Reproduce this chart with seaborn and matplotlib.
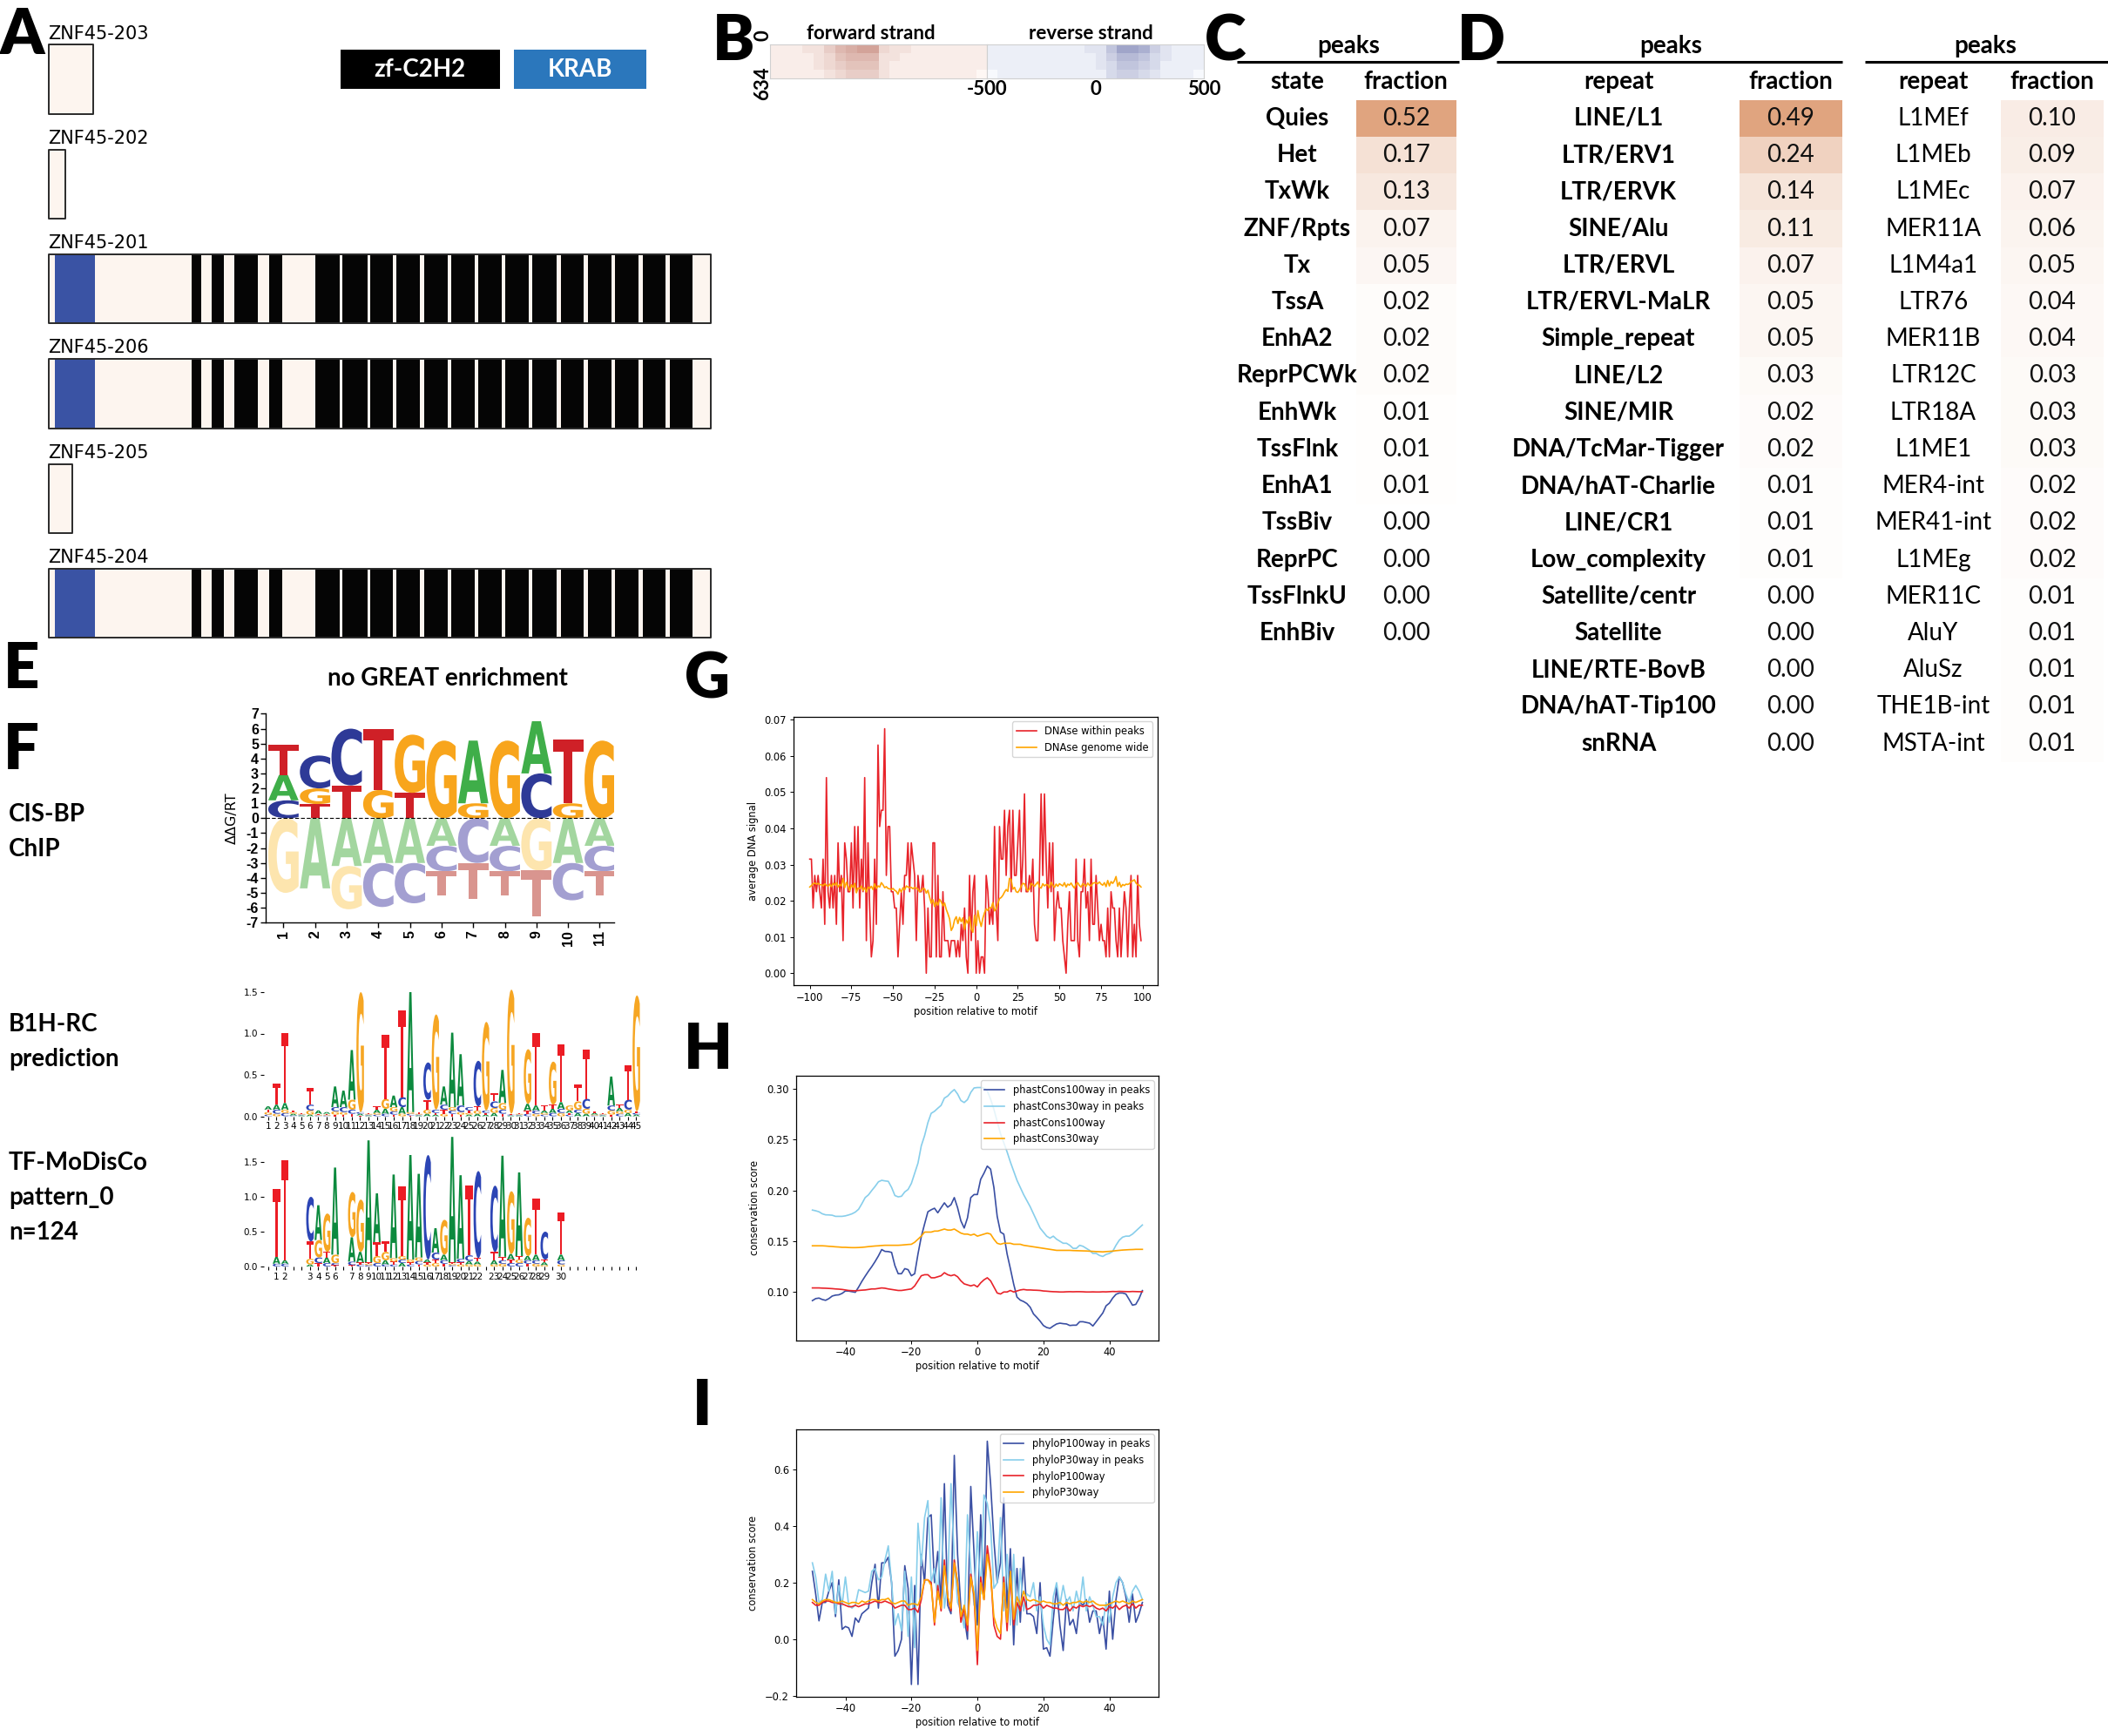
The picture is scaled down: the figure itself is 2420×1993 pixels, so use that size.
import numpy as np
import pandas as pd
import matplotlib
matplotlib.use("Agg")
import matplotlib.pyplot as plt
import seaborn as sns
from matplotlib.patches import Rectangle, PathPatch
from matplotlib.textpath import TextPath
from matplotlib.font_manager import FontProperties
from matplotlib.transforms import Affine2D, blended_transform_factory
from matplotlib.colors import LinearSegmentedColormap

W, H, DPI = 2420, 1993, 100

# ------------------------------------------------------------------ data
isoforms = ["ZNF45-203", "ZNF45-202", "ZNF45-201", "ZNF45-206", "ZNF45-205", "ZNF45-204"]
iso_length = [46, 17, 682, 682, 25, 682]
iso_domains = [False, False, True, True, False, True]
krab_domain = (7, 48)
zf_domains = [(147.6, 157), (168, 180.5), (191.8, 215.7), (227, 241), (275.4, 299.9),
              (303, 328.5), (331.8, 354.9), (358.6, 383), (386.8, 411.3), (415, 439),
              (443, 467), (471, 495), (498.7, 523.6), (527.8, 551.8), (556, 580),
              (584, 608), (612.4, 636), (640, 663.6)]

fwd_density = [[1, 1, 1, 2, 2, 4, 6, 7, 8, 8, 3, 2, 2, 1, 1, 1, 1, 1, 1, 1],
               [1, 1, 1, 1, 2, 3, 5, 6, 6, 6, 2, 2, 1, 1, 1, 1, 1, 1, 1, 1],
               [1, 1, 1, 1, 2, 3, 4, 5, 5, 5, 2, 1, 1, 1, 1, 1, 1, 1, 1, 1],
               [1, 1, 1, 1, 1, 2, 3, 4, 4, 4, 2, 1, 1, 1, 1, 1, 1, 1, 1, 0]]
rev_density = [[1, 1, 1, 1, 1, 1, 1, 1, 1, 2, 2, 5, 8, 8, 7, 4, 2, 1, 1, 1],
               [1, 1, 1, 1, 1, 1, 1, 1, 1, 1, 2, 4, 6, 6, 5, 3, 2, 1, 1, 1],
               [1, 1, 1, 1, 1, 1, 1, 1, 1, 1, 2, 3, 5, 5, 4, 3, 1, 1, 1, 1],
               [0, 1, 1, 1, 1, 1, 1, 1, 1, 1, 1, 3, 4, 4, 3, 2, 1, 1, 1, 0]]
strand_ticks = ["-500", "0", "500"]
heat_rows = ["0", "634"]

states = ["Quies", "Het", "TxWk", "ZNF/Rpts", "Tx", "TssA", "EnhA2", "ReprPCWk", "EnhWk",
          "TssFlnk", "EnhA1", "TssBiv", "ReprPC", "TssFlnkU", "EnhBiv"]
state_frac = [0.52, 0.17, 0.13, 0.07, 0.05, 0.02, 0.02, 0.02, 0.01, 0.01, 0.01, 0.00, 0.00, 0.00, 0.00]

repeat_class = ["LINE/L1", "LTR/ERV1", "LTR/ERVK", "SINE/Alu", "LTR/ERVL", "LTR/ERVL-MaLR",
                "Simple_repeat", "LINE/L2", "SINE/MIR", "DNA/TcMar-Tigger", "DNA/hAT-Charlie",
                "LINE/CR1", "Low_complexity", "Satellite/centr", "Satellite", "LINE/RTE-BovB",
                "DNA/hAT-Tip100", "snRNA"]
repeat_class_frac = [0.49, 0.24, 0.14, 0.11, 0.07, 0.05, 0.05, 0.03, 0.02, 0.02, 0.01, 0.01,
                     0.01, 0.00, 0.00, 0.00, 0.00, 0.00]

repeat_family = ["L1MEf", "L1MEb", "L1MEc", "MER11A", "L1M4a1", "LTR76", "MER11B", "LTR12C",
                 "LTR18A", "L1ME1", "MER4-int", "MER41-int", "L1MEg", "MER11C", "AluY", "AluSz",
                 "THE1B-int", "MSTA-int"]
repeat_family_frac = [0.10, 0.09, 0.07, 0.06, 0.05, 0.04, 0.04, 0.03, 0.03, 0.03, 0.02, 0.02,
                      0.02, 0.01, 0.01, 0.01, 0.01, 0.01]

# CIS-BP energy logo (ddG/RT), positions 1..11
cisbp_A = [1.7, -4.7, -3.2, -3.0, -3.0, -1.85, 4.2, -1.85, 3.5, -3.0, -1.85]
cisbp_C = [1.2, 2.2, 3.8, -2.95, -2.7, -1.7, -3.0, -1.7, 3.0, -2.5, -1.7]
cisbp_G = [-5.0, 1.05, -2.9, 1.9, 3.9, 5.2, 1.0, 5.2, -3.5, 1.0, 5.2]
cisbp_T = [2.0, 0.95, 2.2, 4.1, 1.7, -1.65, -2.4, -1.65, -3.1, 4.3, -1.65]

# B1H-RC prediction logo (bits), positions 1..45
b1h_A = [.04, .06, .08, .02, .01, .02, .04, .02, .25, .2, .6, .02, .01, .04, .06, .14, .08, 1.45, .01, .03,
         .02, .22, .9, .62, .02, .03, .02, .04, .4, .01, .01, .08, .06, .03, .05, .08, .03, .04, .03, .02,
         .01, .35, .04, .04, .02]
b1h_C = [.02, .05, .04, .01, .01, .07, .01, .01, .05, .06, .05, .02, .01, .02, .03, .04, .12, .02, .01, .45,
         .04, .06, .04, .08, .04, .55, .03, .08, .05, .01, .01, .03, .04, .02, .04, .05, .02, .04, .12, .01,
         .01, .06, .03, .12, .02]
b1h_G = [.03, .03, .04, .02, .01, .05, .01, .01, .04, .03, .12, 1.45, .01, .02, .12, .05, .03, .02, .01, .05,
         1.15, .03, .04, .03, .02, .04, 1.07, .06, .08, 1.5, .01, .66, .03, .02, .52, .04, .06, .1, .06, .01,
         .01, .05, .03, .04, 1.4]
b1h_T = [.03, .25, .85, .02, .01, .2, .01, .01, .02, .02, .03, .01, .01, .04, .77, .02, 1.05, .01, .02, .12,
         .02, .05, .03, .02, .03, .05, .02, .1, .03, .01, .01, .04, .88, .06, .05, .7, .02, .2, .6, .02,
         .01, .02, .04, .42, .02]

# TF-MoDisCo pattern_0 logo (bits), 45 slots, 30 labelled positions
md_A = [0, .1, .05, 0, 0, .03, .5, .08, 1.25, 0, .35, .15, 1.75, .7, .06, 1.2, .05, 1.5, 1.2, .04,
        .35, .08, 1.8, 1.2, .05, .04, 0, .06, 1.45, .08, 1.2, .06, .08, .04, 0, .08, 0, 0, 0, 0, 0, 0, 0, 0, 0]
md_C = [0, .04, .04, 0, 0, .64, .08, .05, .03, 0, .05, .03, .02, .05, .03, .03, .05, .03, .05, 1.5,
        .1, .05, .02, .05, .08, 1.25, 0, .95, .05, .05, .05, .05, .05, .4, 0, .06, 0, 0, 0, 0, 0, 0, 0, 0, 0]
md_G = [0, 0, 0, 0, 0, .08, .25, .55, .12, 0, .65, .75, .02, .1, .12, .05, .05, .04, .05, .03,
        .05, .5, .02, .03, .03, .03, 0, .03, .04, .9, .05, .55, .04, .02, 0, .03, 0, 0, 0, 0, 0, 0, 0, 0, 0]
md_T = [0, .97, 1.43, 0, 0, .25, .05, .08, .02, 0, .02, .03, .02, .2, .15, .04, 1.0, .03, .03, .03,
        .05, .04, .02, .03, 1.0, .05, 0, .12, .05, .05, .05, .04, .8, .04, 0, .6, 0, 0, 0, 0, 0, 0, 0, 0, 0]
md_label_slots = [2, 3, 6, 7, 8, 9, 11, 12, 13, 14, 15, 16, 17, 18, 19, 20, 21, 22, 23, 24, 25, 26,
                  28, 29, 30, 31, 32, 33, 34, 36]

# G: DNase signal around motif
dnase_pos = list(range(-100, 100))
dnase_peaks = [.0315, .0315, .018, .027, .0225, .027, .0225, .018, .0315, .0135,
               .054, .0225, .018, .027, .018, .027, .0135, .036, .0225, .027,
               .009, .036, .0315, .0225, .0225, .036, .018, .0405, .0225, .0405,
               .018, .0315, .0225, .054, .009, .036, .018, .0045, .009, .0315,
               .0135, .063, .0405, .045, .045, .0675, .027, .0405, .0405, .0225,
               .0225, .018, .018, .0045, .0135, .0225, .0135, .027, .027, .036,
               .0225, .036, .0315, .027, .009, .027, .0225, .0225, .027, .018,
               .0, .018, .0045, .0045, .036, .036, .0045, .027, .0045, .0045,
               .0225, .009, .009, .009, .0045, .009, .009, .009, .0045, .009,
               .0045, .0135, .009, .018, .0045, .0, .027, .009, .0225, .027,
               .0, .009, .0, .0045, .0045, .0, .027, .0225, .0135, .018,
               .0135, .0405, .018, .009, .0405, .0315, .0315, .045, .027, .0405,
               .045, .0225, .045, .027, .027, .036, .045, .0225, .0315, .0495,
               .0225, .0225, .027, .0225, .0315, .0135, .009, .009, .027, .0495,
               .027, .0495, .0315, .018, .036, .0225, .036, .009, .018, .0225,
               .018, .018, .009, .0045, .0, .0135, .0225, .009, .009, .009,
               .0315, .009, .0045, .0225, .0225, .0315, .018, .0225, .009, .0315,
               .0135, .0135, .027, .018, .009, .0135, .009, .009, .0045, .018,
               .0045, .0225, .018, .018, .009, .0045, .018, .0045, .0135, .0225,
               .018, .0045, .018, .027, .0045, .0135, .0045, .027, .0135, .009]
dnase_genome = [.0238, .0242, .0247, .0249, .0246, .0248, .0245, .0244, .0241, .0247,
                .0243, .0240, .0246, .0239, .0248, .0243, .0250, .0238, .0245, .0241,
                .0262, .0236, .0251, .0240, .0228, .0244, .0237, .0248, .0222, .0235,
                .0233, .0241, .0229, .0236, .0224, .0238, .0234, .0240, .0231, .0247,
                .0234, .0241, .0238, .0250, .0244, .0236, .0239, .0234, .0233, .0231,
                .0234, .0229, .0226, .0218, .0233, .0224, .0236, .0230, .0241, .0238,
                .0236, .0237, .0233, .0237, .0235, .0232, .0225, .0229, .0234, .0233,
                .0221, .0229, .0210, .0193, .0203, .0184, .0197, .0188, .0204, .0197,
                .0186, .0194, .0176, .0164, .0150, .0118, .0127, .0147, .0156, .0137,
                .0154, .0142, .0153, .0121, .0147, .0138, .0156, .0122, .0113, .0160,
                .0131, .0173, .0146, .0129, .0152, .0167, .0178, .0173, .0181, .0180,
                .0195, .0172, .0178, .0193, .0206, .0209, .0215, .0224, .0231, .0226,
                .0262, .0258, .0232, .0237, .0225, .0223, .0230, .0240, .0248, .0247,
                .0235, .0227, .0233, .0248, .0244, .0240, .0246, .0252, .0238, .0235,
                .0247, .0241, .0245, .0244, .0236, .0251, .0243, .0237, .0246, .0240,
                .0247, .0244, .0241, .0250, .0238, .0246, .0243, .0249, .0241, .0235,
                .0246, .0250, .0242, .0238, .0247, .0244, .0240, .0249, .0243, .0241,
                .0248, .0250, .0249, .0247, .0252, .0246, .0243, .0250, .0239, .0256,
                .0241, .0253, .0248, .0255, .0267, .0240, .0251, .0238, .0245, .0242,
                .0246, .0245, .0247, .0253, .0255, .0258, .0249, .0244, .0243, .0238]

# H: phastCons around motif
cons_pos = list(range(-50, 51))
phast100_peaks = [.0915, .0935, .094, .0926, .0918, .0935, .096, .0969, .0972, .0986,
                  .101, .1009, .1003, .0997, .1048, .1105, .1156, .1205, .125, .130,
                  .1355, .1418, .140, .1398, .139, .126, .118, .118, .123, .122,
                  .116, .118, .1375, .1545, .167, .179, .181, .1825, .178, .183,
                  .1878, .1835, .186, .193, .183, .170, .163, .173, .193, .196,
                  .196, .211, .217, .224, .221, .203, .1745, .159, .157, .1375,
                  .123, .1077, .095, .092, .0906, .0886, .085, .0784, .075, .0713,
                  .067, .065, .0642, .0665, .0685, .0693, .0688, .0685, .067, .0673,
                  .0673, .0707, .0707, .070, .0693, .0665, .0707, .075, .0793, .0864,
                  .089, .094, .0977, .099, .099, .098, .0926, .087, .0878, .0935,
                  .1014]
phast30_peaks = [.1807, .180, .179, .177, .176, .1759, .1756, .1745, .1745, .1745,
                 .175, .1759, .177, .1787, .1815, .187, .193, .1957, .200, .204,
                 .2085, .21, .2094, .209, .203, .195, .1937, .1943, .1986, .201,
                 .207, .217, .227, .244, .254, .2668, .276, .278, .281, .2838,
                 .291, .293, .2966, .2994, .295, .2886, .2866, .2895, .2966, .301,
                 .3014, .3014, .301, .298, .29, .28, .268, .256, .247, .238,
                 .228, .219, .21, .203, .196, .19, .184, .177, .17, .163,
                 .159, .155, .153, .155, .152, .15, .148, .148, .146, .143,
                 .143, .146, .145, .143, .141, .138, .138, .136, .135, .137,
                 .138, .14, .146, .151, .154, .155, .155, .157, .16, .163,
                 .166]
phast100_all = [.104, .104, .104, .1038, .1037, .1035, .1033, .103, .1028, .1025,
                .102, .1015, .1013, .1012, .1015, .1018, .102, .1025, .103, .103,
                .1035, .104, .1037, .103, .1025, .102, .1015, .1015, .102, .1025,
                .103, .106, .111, .116, .117, .117, .114, .114, .115, .116,
                .119, .117, .116, .117, .115, .111, .108, .107, .106, .107,
                .105, .109, .112, .114, .111, .105, .099, .098, .1, .1,
                .1015, .1, .101, .102, .1025, .102, .102, .1018, .1017, .1015,
                .101, .1008, .1005, .1003, .1002, .1, .1, .1002, .1003, .1002,
                .1003, .1003, .1002, .1, .1, .1001, .1, .1, .1002, .1001,
                .1003, .1005, .1004, .1006, .1005, .1004, .1003, .1005, .1004, .1003,
                .1003]
phast30_all = [.1455, .1455, .1455, .1455, .1453, .145, .1448, .1445, .1443, .144,
               .144, .1438, .1437, .1437, .1438, .144, .1443, .1447, .145, .1453,
               .1455, .1458, .146, .146, .146, .146, .146, .1462, .1465, .1468,
               .147, .149, .152, .155, .159, .159, .159, .16, .16, .161,
               .162, .161, .161, .162, .16, .158, .157, .157, .156, .157,
               .155, .156, .157, .158, .157, .152, .148, .147, .148, .148,
               .148, .147, .147, .147, .146, .1455, .145, .1445, .144, .1435,
               .143, .1425, .142, .1415, .141, .141, .141, .141, .141, .1408,
               .1407, .1406, .1405, .1404, .1402, .14, .1398, .1397, .1395, .1398,
               .14, .1403, .1407, .141, .1413, .1415, .1417, .1418, .142, .142,
               .142]

# I: phyloP around motif
phylo100_peaks = [.24, .16, .065, .13, .13, .17, .2, .08, .21, .035,
                  .045, .04, .01, .075, .06, .09, .1, .11, .2, .265,
                  .11, .27, .27, .29, .2, -.06, -.04, 0.0, .26, .18,
                  -.16, .19, -.16, .3, .2, .43, .44, .2, .31, .13,
                  .55, .12, .09, .65, .3, .11, .08, 0.0, .54, .3,
                  .05, .44, .15, .7, .55, .35, .2, .27, .5, .11,
                  .32, -.02, .25, .06, .29, .09, .09, .08, .02, .2,
                  -.035, -.03, -.06, .07, .185, .05, -.04, .14, .05, .07,
                  .02, .13, .12, .14, .06, .1, .1, .02, .08, -.035,
                  .17, 0.0, .14, .22, .2, .15, .06, .16, .06, .09,
                  .13]
phylo30_peaks = [.27, .22, .13, .14, .23, .17, .24, .09, .19, .12,
                 .22, .12, .11, .12, .175, .17, .165, .17, .24, .25,
                 .21, .22, .28, .33, .2, .05, .09, .03, .24, .01,
                 .22, -.03, .41, .26, .43, .49, .2, .25, .14, .5,
                 .11, .2, .55, .28, .13, .1, .04, .44, .25, .12,
                 .38, .16, .51, .48, .4, .18, .2, .43, .1, .3,
                 .05, .3, .05, .25, .1, .16, .15, .2, .1, .15,
                 .05, 0.0, -.02, .15, .2, .12, .19, .13, .15, .1,
                 .17, .12, .22, .1, .15, .12, .08, .08, .05, .13,
                 .06, .15, .2, .22, .2, .16, .13, .17, .19, .17,
                 .14]
phylo100_all = [.13, .12, .12, .13, .135, .135, .13, .13, .125, .125,
                .12, .115, .115, .12, .115, .12, .125, .125, .13, .135,
                .13, .13, .135, .13, .125, .11, .115, .12, .12, .105,
                .105, .11, .095, .14, .21, .21, .2, .05, .19, .1,
                .28, .15, .1, .28, .2, .06, .11, .03, .23, .15,
                -.09, .22, .14, .33, .24, .05, .01, 0.0, .22, .03,
                .23, .05, .13, .1, .15, .105, .11, .12, .12, .125,
                .11, .12, .115, .11, .11, .105, .105, .115, .1, .115,
                .11, .12, .115, .12, .115, .12, .11, .105, .11, .1,
                .115, .11, .12, .105, .115, .12, .11, .125, .11, .12,
                .12]
phylo30_all = [.14, .13, .125, .135, .14, .14, .135, .13, .13, .135,
               .13, .125, .13, .13, .125, .135, .13, .135, .14, .14,
               .135, .14, .14, .145, .13, .125, .13, .135, .135, .12,
               .125, .125, .12, .15, .21, .21, .19, .06, .17, .11,
               .26, .15, .11, .27, .2, .08, .12, .05, .22, .16,
               -.04, .2, .14, .3, .23, .08, .04, .02, .2, .06,
               .24, .07, .15, .12, .17, .14, .135, .14, .135, .13,
               .135, .13, .13, .125, .125, .13, .12, .13, .125, .13,
               .13, .135, .13, .135, .13, .135, .125, .12, .12, .12,
               .125, .13, .135, .13, .135, .13, .125, .135, .13, .135,
               .14]

# ------------------------------------------------------------------ style
plt.rcParams["font.family"] = ["Lato", "DejaVu Sans"]
FONT = ["Lato", "DejaVu Sans"]
SMALL = 8.3

fig = plt.figure(figsize=(W / DPI, H / DPI), dpi=DPI)
fig.patch.set_facecolor("white")


def rect(x0, y0, x1, y1):
    return [x0 / W, 1 - y1 / H, (x1 - x0) / W, (y1 - y0) / H]


bg = fig.add_axes([0, 0, 1, 1], zorder=-5)
bg.set_xlim(0, W)
bg.set_ylim(H, 0)
bg.axis("off")


def txt(x, y, s, size=20, weight="normal", ha="center", va="center", **kw):
    kw.setdefault("family", FONT)
    bg.text(x, y, s, fontsize=size, fontweight=weight, ha=ha, va=va, **kw)


# panel letters
for lab, x, y in [("A", 0, 62), ("B", 818, 69), ("C", 1383, 69), ("D", 1673, 69),
                  ("E", 4, 790), ("F", 4, 883), ("G", 786, 802), ("H", 785, 1227), ("I", 795, 1636)]:
    txt(x, y, lab, size=52, weight="heavy", ha="left", va="baseline")

# ------------------------------------------------------------------ A: isoforms
axA = fig.add_axes(rect(55.6, 0, 815.5, 760))
axA.set_xlim(0, 682)
axA.set_ylim(5.561, -0.7565)
axA.axis("off")
axA.patch.set_alpha(0)
BOX_H = 0.66
for k, (name, L, dom) in enumerate(zip(isoforms, iso_length, iso_domains)):
    yb = (k - BOX_H / 2, BOX_H)
    axA.broken_barh([(0, L)], yb, facecolors="#fdf5ef", edgecolors="none")
    if dom:
        axA.broken_barh([(krab_domain[0], krab_domain[1] - krab_domain[0])], yb,
                        facecolors="#3a53a4", edgecolors="none")
        axA.broken_barh([(s, e - s) for s, e in zf_domains], yb,
                        facecolors="#050505", edgecolors="none")
    c = axA.broken_barh([(0, L)], yb, facecolors="none", edgecolors="#2a2a2a", linewidth=1.4)
    c.set_clip_on(False)
    axA.text(0, k - 0.436, name, fontsize=15, family="DejaVu Sans", ha="left", va="center")

bg.add_patch(Rectangle((390.5, 57), 183.5, 45, facecolor="black", edgecolor="none"))
bg.add_patch(Rectangle((589.6, 57), 152.8, 45, facecolor="#2b77bc", edgecolor="none"))
txt(482, 80, "zf-C2H2", size=20, weight="bold", color="white")
txt(666, 80, "KRAB", size=20, weight="bold", color="white")

# ------------------------------------------------------------------ B: strand heatmaps
cm_f = LinearSegmentedColormap.from_list("fwd", ["#fef7f4", "#a8503f"])
cm_r = LinearSegmentedColormap.from_list("rev", ["#f7f9fd", "#4a5296"])
axBf = fig.add_axes(rect(884, 51, 1133, 89.5))
axBr = fig.add_axes(rect(1133, 51, 1382, 89.5))
sns.heatmap(np.array(fwd_density), ax=axBf, cmap=cm_f, vmin=0, vmax=16, cbar=False,
            xticklabels=False, yticklabels=False)
sns.heatmap(np.array(rev_density), ax=axBr, cmap=cm_r, vmin=0, vmax=16, cbar=False,
            xticklabels=False, yticklabels=False)
for a in (axBf, axBr):
    for s in a.spines.values():
        s.set_visible(True)
        s.set_color("#d0d0d0")
        s.set_linewidth(0.8)
ncol = len(rev_density[0])
axBr.set_xticks([0, ncol / 2, ncol])
axBr.set_xticklabels(strand_ticks, fontsize=16, fontweight="bold", family=FONT)
axBr.tick_params(axis="x", length=0, pad=1.5)
txt(876, 41, heat_rows[0], size=16, weight="bold", rotation=90)
txt(876, 96, heat_rows[1], size=16, weight="bold", rotation=90)
txt(1000, 38, "forward strand", size=16, weight="bold")
txt(1252, 38, "reverse strand", size=16, weight="bold")

# ------------------------------------------------------------------ C, D: tables
cm_t = LinearSegmentedColormap.from_list("frac", ["#ffffff", "#e0a47f"])
ROW_TOP, ROW_H = 114.7, 42.23


def table(x0, x1, labels, values, vmax, label_cx, head_cx, line_x0, line_x1, label_weight, head_label):
    n = len(values)
    ax = fig.add_axes(rect(x0, ROW_TOP, x1, ROW_TOP + n * ROW_H))
    sns.heatmap(np.array(values).reshape(-1, 1), ax=ax, cmap=cm_t, vmin=0, vmax=vmax, cbar=False,
                annot=True, fmt=".2f", xticklabels=False, yticklabels=False,
                annot_kws=dict(fontsize=20, color="#111111", family=FONT))
    tr = blended_transform_factory(ax.transAxes, ax.transData)
    wid = x1 - x0
    lx = (label_cx - x0) / wid
    for i, lab in enumerate(labels):
        ax.text(lx, i + 0.5, lab, transform=tr, ha="center", va="center", fontsize=20,
                fontweight=label_weight, family=FONT, clip_on=False)
    ax.text(lx, -0.5, head_label, transform=tr, ha="center", va="center", fontsize=20,
            fontweight="bold", family=FONT)
    ax.text(0.5, -0.5, "fraction", transform=tr, ha="center", va="center", fontsize=20,
            fontweight="bold", family=FONT)
    ax.text((head_cx - x0) / wid, -1.45, "peaks", transform=tr, ha="center", va="center",
            fontsize=20, fontweight="bold", family=FONT)
    ax.plot([(line_x0 - x0) / wid, (line_x1 - x0) / wid], [-1.035, -1.035], transform=tr,
            color="black", lw=2.2, clip_on=False, solid_capstyle="butt")
    return ax


table(1557, 1671.5, states, state_frac, max(state_frac), 1489.4, 1548, 1420, 1675, "bold", "state")
table(1997, 2114.5, repeat_class, repeat_class_frac, max(repeat_class_frac), 1858, 1918.5, 1717.8,
      2114.5, "bold", "repeat")
table(2296.6, 2415.4, repeat_family, repeat_family_frac, max(repeat_class_frac), 2219.4, 2279.6,
      2140.7, 2420, "normal", "repeat")

# ------------------------------------------------------------------ E, F texts
txt(514, 779, "no GREAT enrichment", size=20, weight="bold")
for s, y in [("CIS-BP", 935), ("ChIP", 975), ("B1H-RC", 1176), ("prediction", 1216),
             ("TF-MoDisCo", 1335), ("pattern_0", 1375), ("n=124", 1415)]:
    txt(10, y, s, size=20, weight="bold", ha="left")

# ------------------------------------------------------------------ logos
LOGO_FP = FontProperties(family="DejaVu Sans", weight="bold")
_glyphs = {}


def draw_letter(ax, ch, xc, y0, w, h, color):
    if h <= 0:
        return
    if ch not in _glyphs:
        _glyphs[ch] = TextPath((0, 0), ch, size=1, prop=LOGO_FP)
    tp = _glyphs[ch]
    bb = tp.get_extents()
    tr = (Affine2D().translate(-bb.x0, -bb.y0)
          .scale(w / bb.width, h / bb.height).translate(xc - w / 2, y0))
    ax.add_patch(PathPatch(tr.transform_path(tp), facecolor=color, edgecolor="none", lw=0))


def draw_logo(ax, df, colors, neg_colors=None, width=0.92):
    for pos, row in df.iterrows():
        vals = row.to_dict()
        y = 0.0
        for v, l in sorted((v, l) for l, v in vals.items() if v > 0):
            draw_letter(ax, l, pos, y, width, v, colors[l])
            y += v
        y = 0.0
        for v, l in sorted((v, l) for l, v in vals.items() if v < 0):
            draw_letter(ax, l, pos, y + v, width, -v, neg_colors[l])
            y += v


cis_df = pd.DataFrame({"A": cisbp_A, "C": cisbp_C, "G": cisbp_G, "T": cisbp_T},
                      index=range(1, len(cisbp_A) + 1))
b1h_df = pd.DataFrame({"A": b1h_A, "C": b1h_C, "G": b1h_G, "T": b1h_T},
                      index=range(1, len(b1h_A) + 1))
md_df = pd.DataFrame({"A": md_A, "C": md_C, "G": md_G, "T": md_T}, index=range(1, len(md_A) + 1))

cis_pos = {"A": "#3fae49", "C": "#2e3a97", "G": "#f8a51c", "T": "#cf2027"}
cis_neg = {"A": "#a3d69f", "C": "#a39fd1", "G": "#fde5ae", "T": "#d9958f"}
bits_col = {"A": "#0c8a3e", "C": "#2c45b5", "G": "#f6a623", "T": "#ec1c24"}

axL1 = fig.add_axes(rect(305.4, 819.4, 704.8, 1059.3))
axL1.patch.set_alpha(0)
draw_logo(axL1, cis_df, cis_pos, cis_neg, width=0.96)
axL1.set_xlim(0.45, 11.45)
axL1.set_ylim(-7, 7)
axL1.axhline(0, color="black", lw=0.8, ls=(0, (4, 2)))
axL1.set_yticks(range(-7, 8))
axL1.set_yticklabels([str(v) for v in range(-7, 8)], fontsize=11.5, fontweight="bold",
                     family="Liberation Sans")
axL1.set_xticks(cis_df.index)
axL1.set_xticklabels([str(v) for v in cis_df.index], rotation=90, fontsize=11.5,
                     fontweight="bold", family="Liberation Sans")
for s in ("top", "right"):
    axL1.spines[s].set_visible(False)
for s in ("left", "bottom"):
    axL1.spines[s].set_linewidth(1.0)
axL1.tick_params(length=4, width=1, pad=2)
axL1.set_ylabel("\u0394\u0394G/RT", fontsize=11.5, family="DejaVu Sans", labelpad=6)

axL2 = fig.add_axes(rect(303, 1129.5, 735.3, 1281.5))
axL2.patch.set_alpha(0)
draw_logo(axL2, b1h_df, bits_col, width=0.9)
axL2.set_xlim(0.5, 45.5)
axL2.set_ylim(0, 1.6)
for s in axL2.spines.values():
    s.set_visible(False)
axL2.set_yticks([0, 0.5, 1.0, 1.5])
axL2.set_yticklabels(["0.0", "0.5", "1.0", "1.5"], fontsize=7.5, family="DejaVu Sans")
axL2.set_xticks(b1h_df.index)
axL2.set_xticklabels([str(v) for v in b1h_df.index], fontsize=7.5, family="DejaVu Sans")
axL2.tick_params(length=3, width=0.8, pad=2)

axL3 = fig.add_axes(rect(303, 1302, 735.3, 1454))
axL3.patch.set_alpha(0)
draw_logo(axL3, md_df, bits_col, width=0.9)
axL3.set_xlim(0.5, 45.5)
axL3.set_ylim(0, 1.9)
for s in axL3.spines.values():
    s.set_visible(False)
axL3.set_yticks([0, 0.5, 1.0, 1.5])
axL3.set_yticklabels(["0.0", "0.5", "1.0", "1.5"], fontsize=7.5, family="DejaVu Sans")
axL3.set_xticks(md_df.index)
md_labels = [""] * len(md_df)
for n, sl in enumerate(md_label_slots, start=1):
    md_labels[sl - 1] = str(n)
axL3.set_xticklabels(md_labels, fontsize=7.5, family="DejaVu Sans")
axL3.tick_params(length=3, width=0.8, pad=2)

# ------------------------------------------------------------------ G, H, I line plots
DARK, LIGHT, RED, ORANGE = "#3a4fa3", "#87ceeb", "#e8232a", "#ffa500"


def line_panel(box, x, series, ylabel, yticks, ylabels, xticks):
    ax = fig.add_axes(rect(*box))
    for y, col, lab in series:
        sns.lineplot(x=x, y=y, ax=ax, color=col, linewidth=1.2, label=lab, estimator=None)
    ax.legend(loc="upper right", frameon=True, framealpha=0.8, edgecolor="0.8",
              prop={"family": "DejaVu Sans", "size": SMALL})
    ax.set_yticks(yticks)
    ax.set_yticklabels(ylabels)
    ax.set_xticks(xticks)
    ax.set_xlabel("position relative to motif", fontsize=SMALL, family="DejaVu Sans", labelpad=2)
    ax.set_ylabel(ylabel, fontsize=SMALL, family="DejaVu Sans", labelpad=5)
    ax.tick_params(labelsize=SMALL, length=3, width=0.7, pad=2.5)
    for t in ax.get_xticklabels() + ax.get_yticklabels():
        t.set_family("DejaVu Sans")
    for s in ax.spines.values():
        s.set_linewidth(0.9)
        s.set_color("black")
    return ax


line_panel((910.6, 822.6, 1328.9, 1131.3), dnase_pos,
           [(dnase_peaks, RED, "DNAse within peaks"), (dnase_genome, ORANGE, "DNAse genome wide")],
           "average DNA signal",
           [0, 0.01, 0.02, 0.03, 0.04, 0.05, 0.06, 0.07],
           ["0.00", "0.01", "0.02", "0.03", "0.04", "0.05", "0.06", "0.07"],
           [-100, -75, -50, -25, 0, 25, 50, 75, 100])

line_panel((913.7, 1234.7, 1330.4, 1538.8), cons_pos,
           [(phast100_peaks, DARK, "phastCons100way in peaks"),
            (phast30_peaks, LIGHT, "phastCons30way in peaks"),
            (phast100_all, RED, "phastCons100way"),
            (phast30_all, ORANGE, "phastCons30way")],
           "conservation score",
           [0.10, 0.15, 0.20, 0.25, 0.30], ["0.10", "0.15", "0.20", "0.25", "0.30"],
           [-40, -20, 0, 20, 40])

line_panel((913.7, 1640.6, 1330.4, 1947.8), cons_pos,
           [(phylo100_peaks, DARK, "phyloP100way in peaks"),
            (phylo30_peaks, LIGHT, "phyloP30way in peaks"),
            (phylo100_all, RED, "phyloP100way"),
            (phylo30_all, ORANGE, "phyloP30way")],
           "conservation score",
           [-0.2, 0.0, 0.2, 0.4, 0.6], ["\u22120.2", "0.0", "0.2", "0.4", "0.6"],
           [-40, -20, 0, 20, 40])

fig.savefig("out.png", dpi=DPI, facecolor="white")
